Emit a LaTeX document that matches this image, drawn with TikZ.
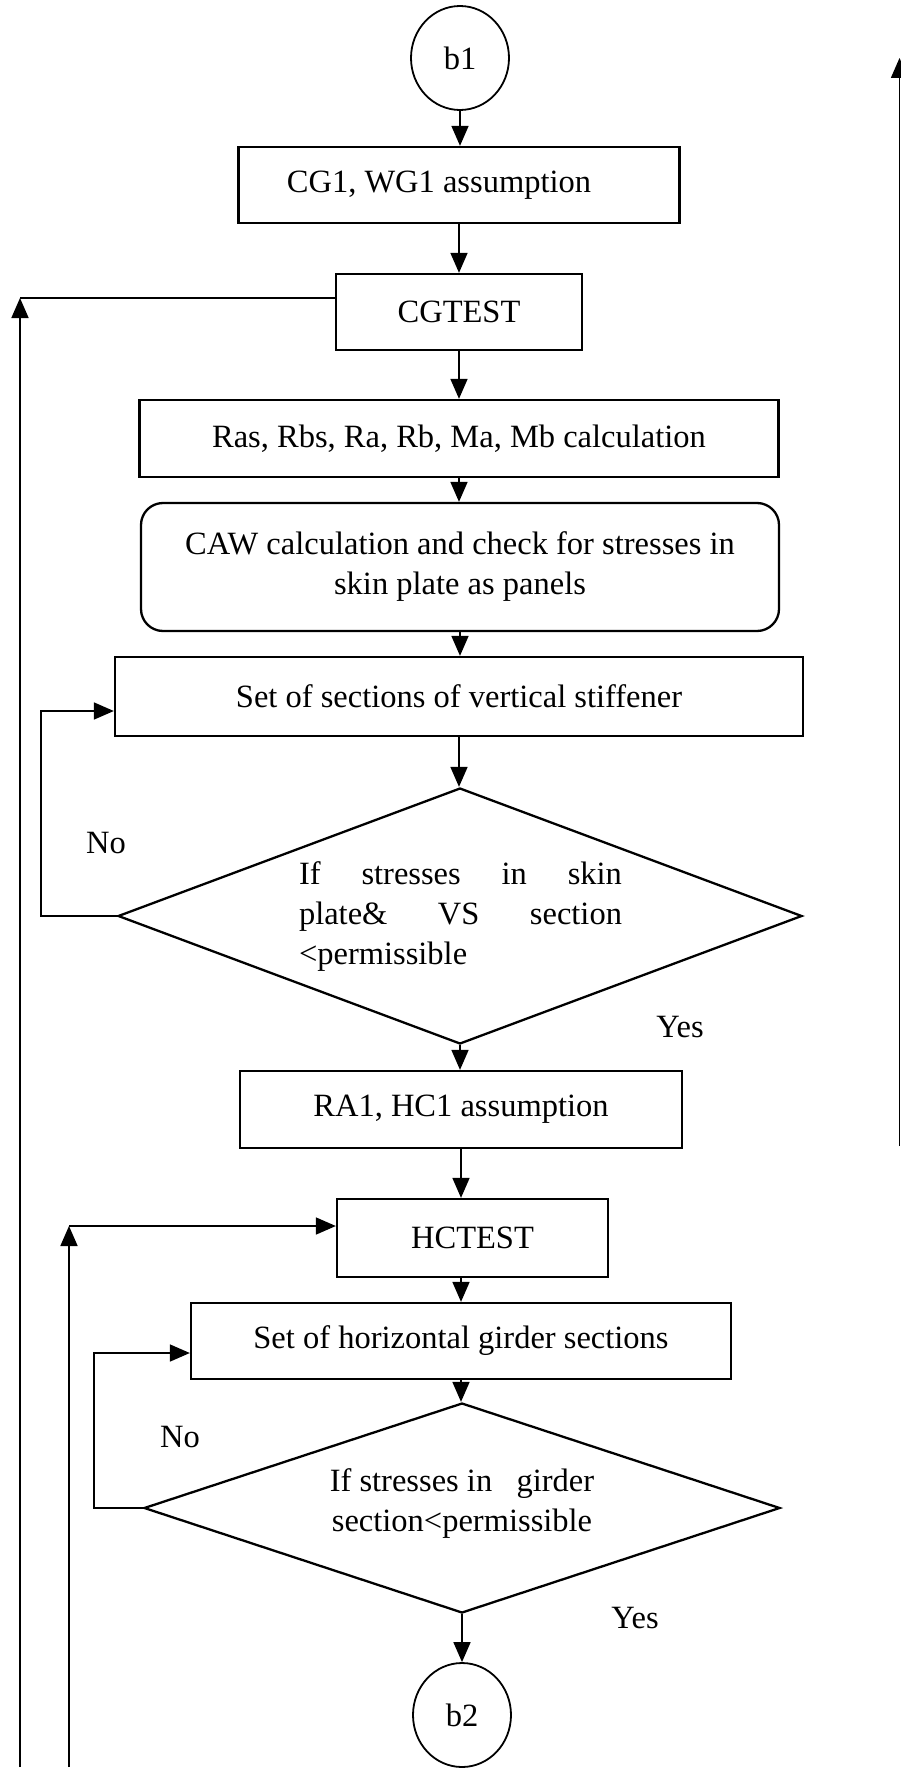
\documentclass[tikz,border=0pt]{standalone}
\usepackage{fontspec}
\setmainfont{Liberation Serif}
\usetikzlibrary{shapes.geometric,arrows.meta}
\begin{document}
\begin{tikzpicture}[x=1pt,y=-1pt,
  every node/.style={font=\fontsize{32.5}{40}\selectfont},
  box/.style={draw,line width=2.3pt,rectangle,inner sep=0pt,align=center},
  term/.style={draw,line width=1.8pt,ellipse,minimum width=98pt,minimum height=104pt,inner sep=0pt},
  dec/.style={draw,line width=2.3pt,diamond,inner sep=0pt},
  lab/.style={inner sep=0pt},
  conn/.style={line width=1.7pt},
  arr/.style={conn,-{Triangle[length=20pt,width=17pt]}}
]
\fill[white] (0,0) rectangle (901,1779);
\useasboundingbox (0,0) rectangle (901,1779);

\node[term] (b1) at (460,58) {b1};
\node[box,minimum width=441pt,minimum height=76pt] (a1) at (459,185) {CG1, WG1 assumption\hspace{40pt}};
\node[box,minimum width=246pt,minimum height=76pt] (cg) at (459,312) {CGTEST};
\node[box,minimum width=639pt,minimum height=77pt] (r3) at (459,438.5) {Ras, Rbs, Ra, Rb, Ma, Mb calculation};
\node[box,rounded corners=22pt,minimum width=638pt,minimum height=128pt] (caw) at (460,567) {CAW calculation and check for stresses in\\skin plate as panels};
\node[box,minimum width=688pt,minimum height=79pt] (s5) at (459,696.5) {Set of sections of vertical stiffener};
\node[dec,minimum width=684pt,minimum height=256pt] (d1) at (460,916) {};
\node[lab,text width=323pt,align=left] (d1t) at (460.5,917) {If\hfill stresses\hfill in\hfill skin\\plate\&\hfill VS\hfill section\\<permissible};
\node[lab] (no1) at (106,843) {No};
\node[lab] (yes1) at (680,1027) {Yes};
\node[box,minimum width=442pt,minimum height=77pt] (ra) at (461,1109.5) {RA1, HC1 assumption};
\node[box,minimum width=271pt,minimum height=78pt] (hc) at (472.5,1238) {HCTEST};
\node[box,minimum width=540pt,minimum height=76pt] (hg) at (461,1341) {Set of horizontal girder sections};
\node[dec,minimum width=636pt,minimum height=210pt] (d2) at (462,1508) {};
\node[lab,align=center] (d2t) at (462,1503) {If stresses in\ \ \ girder\\section<permissible};
\node[lab] (no2) at (180,1437) {No};
\node[lab] (yes2) at (635,1618) {Yes};
\node[term] (b2) at (462,1715) {b2};

% main flow
\draw[arr] (b1.south) -- (b1.south |- a1.north);
\draw[arr] (a1.south) -- (a1.south |- cg.north);
\draw[arr] (cg.south) -- (cg.south |- r3.north);
\draw[arr] (r3.south) -- (r3.south |- caw.north);
\draw[arr] (caw.south) -- (caw.south |- s5.north);
\draw[arr] (s5.south) -- (s5.south |- d1.north);
\draw[arr] (d1.south) -- (d1.south |- ra.north);
\draw[arr] (ra.south) -- (ra.south |- hc.north);
\draw[arr] (hc.south -| hg.north) -- (hg.north);
\draw[arr] (hg.south) -- (hg.south |- d2.north);
\draw[arr] (d2.south) -- (d2.south |- b2.north);

% inner loops
\coordinate (l1) at (41,916);
\draw[arr] (d1.west) -- (l1) |- ([yshift=-14.5pt]s5.west);
\coordinate (l2) at (94,1508);
\draw[arr] (d2.west) -- (l2) |- ([yshift=-12pt]hg.west);

% outer loops
\coordinate (o1) at (20,1767);
\coordinate (o1c) at (20,298);
\draw[arr] (o1) -- (o1c);
\draw[conn] (o1c) -- (o1c -| cg.west);
\coordinate (o2) at (69,1767);
\coordinate (o2c) at (69,1226);
\draw[arr] (o2) -- (o2c);
\draw[arr] (o2c) -- (o2c -| hc.west);
\coordinate (rb) at (899.5,1146);
\coordinate (rt) at (899.5,58);
\draw[arr] (rb) -- (rt);
\end{tikzpicture}
\end{document}
